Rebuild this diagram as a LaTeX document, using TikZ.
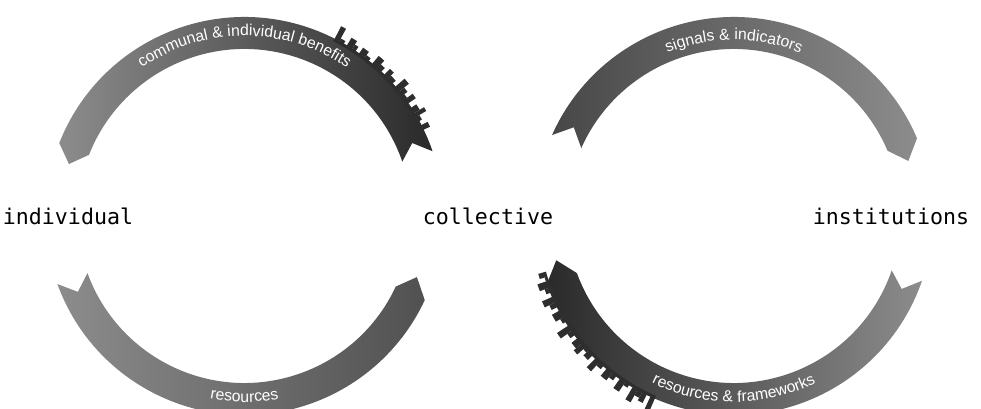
\documentclass[tikz,border=0pt]{standalone}
\usepackage{fontspec}
\usepackage{tikz}
\usetikzlibrary{decorations.text,calc}

\newfontfamily\ribbonfont{Liberation Sans}
\newfontfamily\placefont{DejaVu Sans Mono}

\definecolor{lightband}{HTML}{8C8C8C}
\definecolor{midband}{HTML}{5E5E5E}
\definecolor{darkband}{HTML}{2A2A2A}
\definecolor{skyline}{HTML}{2E2E2E}

\begin{document}
\begin{tikzpicture}[x=0.02cm, y=0.02cm]

	\tikzstyle{place} = [font=\placefont\fontsize{12.3}{14}\selectfont, inner sep=0pt]
	\tikzstyle{ribbon} = [draw=none]
	\tikzstyle{block} = [fill=skyline, draw=none]
	\tikzstyle{caption} = [decorate]

	\useasboundingbox (0,0) rectangle (981,409);

%------------------------------------------------------------
	\node[place] (individual) at (68,193) {individual};
	\node[place] (collective) at (488,193) {collective};
	\node[place] (institutions) at (891,193) {institutions};

	\coordinate (lc) at ($(individual)!0.42!(collective)$);
	\coordinate (rc) at ($(collective)!0.61!(institutions)$);
%------------------------------------------------------------
	\begin{scope}[shift={(lc)}]
	% benefits, from collective back to individual
	\path[ribbon, left color=lightband, middle color=midband, right color=darkband]
		(158.5:199) arc[start angle=158.5, end angle=19, radius=199]
		-- (23.5:183) -- (19:167)
		arc[start angle=19, end angle=158.5, radius=167]
		-- (163.5:183) -- cycle;
	% skyline on the dark end
	\foreach \a/\w/\h in {63/1.5/14, 61.5/1.5/3, 60/1/0, 59/1.8/9, 57.2/1.2/5, 56/1.2/0,
		54.8/2/7, 52.8/1.5/3, 51.3/1.3/0, 50/2/10, 48/1.5/5, 46.5/1.2/0, 45.3/1.5/8,
		43.8/2/4, 41.8/1.2/0, 40.6/1.8/12, 38.8/1.5/6, 37.3/1.3/2, 36/1.5/9, 34.5/1.5/0,
		33/1.8/6, 31.2/1.2/11, 30/1.5/3, 28.5/1.3/0, 27.2/1.5/7}
		\fill[block] (\a:196) -- (\a:{199+\h}) arc[start angle=\a, end angle={\a-\w}, radius={199+\h}] -- ({\a-\w}:196) -- cycle;
	\path[caption, decoration={text along path, text align=center, text color=white,
		text={|\ribbonfont\fontsize{9}{10}\selectfont|communal {\&} individual benefits}}]
		(160:180) arc[start angle=160, end angle=20, radius=180];

	% resources, from individual to collective
	\path[ribbon, left color=lightband, middle color=gray!105!black!95, right color=darkband!60!lightband]
		(200:199) arc[start angle=200, end angle=335, radius=199]
		-- (340.5:183) -- (335:167)
		arc[start angle=335, end angle=200, radius=167]
		-- (204.5:183) -- cycle;
	\path[caption, decoration={text along path, text align=center, text color=white,
		text={|\ribbonfont\fontsize{9}{10}\selectfont|resources}}]
		(200:186) arc[start angle=200, end angle=340, radius=186];
	\end{scope}
%------------------------------------------------------------
	\begin{scope}[shift={(rc)}]
	% signals, from collective to institutions
	\path[ribbon, left color=darkband!70!lightband, middle color=gray!90!black, right color=lightband]
		(156:199) arc[start angle=156, end angle=23, radius=199]
		-- (17.5:183) -- (23:167)
		arc[start angle=23, end angle=156, radius=167]
		-- (151:183) -- cycle;
	\path[caption, decoration={text along path, text align=center, text color=white,
		text={|\ribbonfont\fontsize{9}{10}\selectfont|signals {\&} indicators}}]
		(160:176) arc[start angle=160, end angle=20, radius=176];

	% frameworks, from institutions back to collective
	\path[ribbon, left color=darkband, middle color=midband, right color=lightband]
		(200:199) arc[start angle=200, end angle=341, radius=199]
		-- (336.5:183) -- (341:167)
		arc[start angle=341, end angle=200, radius=167]
		-- (194:183) -- cycle;
	% skyline on the dark end
	\foreach \a/\w/\h in {196.5/1.5/5, 198/1.2/0, 199.2/2/9, 201.2/1.5/4, 202.7/1.3/0,
		204/1.8/11, 205.8/1.5/6, 207.3/1.2/0, 208.5/2.2/8, 210.7/1.5/3, 212.2/1.3/0,
		213.5/1.8/13, 215.3/1.5/5, 216.8/1.2/0, 218/2/7, 220/1.5/10, 221.5/1.3/2,
		222.8/1.8/6, 224.6/1.2/0, 225.8/1.6/12, 227.4/1.6/4, 229/1.2/0, 230.2/2/9,
		232.2/1.5/5, 233.7/1.3/0, 235/1.8/11, 236.8/1.4/3, 238.2/1.2/0, 239.4/1.6/14,
		241/1.5/6, 242.5/1.5/9, 244/1.2/0, 245.2/1.4/16}
		\fill[block] (\a:196) -- (\a:{199+\h}) arc[start angle=\a, end angle={\a+\w}, radius={199+\h}] -- ({\a+\w}:196) -- cycle;
	\path[caption, decoration={text along path, text align=center, text color=white,
		text={|\ribbonfont\fontsize{9}{10}\selectfont|resources {\&} frameworks}}]
		(200:186) arc[start angle=200, end angle=340, radius=186];
	\end{scope}

\end{tikzpicture}
\end{document}
